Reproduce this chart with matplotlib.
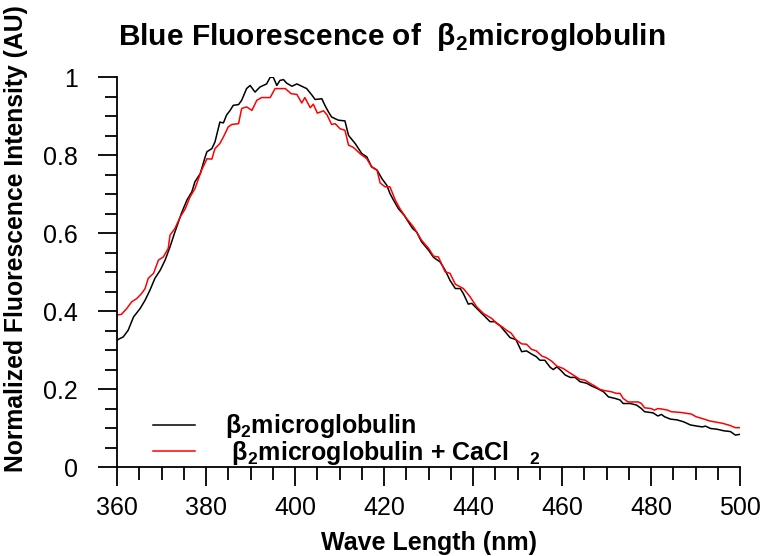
import numpy as np
import matplotlib
matplotlib.use("Agg")
import matplotlib.pyplot as plt
from matplotlib.ticker import MultipleLocator, FuncFormatter

plt.rcParams['font.family'] = ['Liberation Sans', 'DejaVu Sans']
plt.rcParams['mathtext.fontset'] = 'custom'
plt.rcParams['mathtext.rm'] = 'Liberation Sans'
plt.rcParams['mathtext.bf'] = 'Liberation Sans:bold'

# beta2 microglobulin (black)
dalgaSiyah = [360.0, 360.2, 361.4, 362.5, 363.7, 365.2, 366.3, 367.4, 368.5, 369.7, 370.8, 371.9,
              373.0, 374.5, 375.7, 376.8, 377.5, 378.7, 379.8, 380.2, 381.3, 382.0, 383.1, 383.9,
              384.6, 385.4, 386.1, 387.3, 388.0, 389.1, 389.9, 391.0, 392.1, 393.6, 394.4, 395.1,
              395.9, 396.6, 397.4, 398.1, 399.3, 400.4, 401.5, 402.6, 403.8, 404.5, 406.0, 406.7,
              407.5, 408.2, 409.7, 411.2, 412.0, 413.5, 415.0, 416.1, 417.2, 418.4, 419.5, 420.6,
              421.3, 422.1, 423.2, 424.5, 426.4, 427.3, 428.4, 430.0, 431.1, 432.6, 433.7, 434.8,
              436.0, 437.1, 437.8, 438.9, 439.7, 440.8, 442.3, 443.8, 444.9, 446.1, 447.2, 448.3,
              449.6, 450.9, 452.0, 453.1, 454.2, 455.0, 456.1, 457.3, 458.0, 458.8, 459.6, 460.7,
              461.8, 462.9, 464.0, 465.5, 466.6, 467.8, 469.3, 470.4, 471.9, 473.0, 473.7, 475.3,
              476.7, 477.8, 478.5, 480.4, 481.5, 482.3, 483.0, 484.3, 485.8, 487.3, 488.8, 490.3,
              491.5, 492.2, 493.3, 494.8, 496.3, 497.8, 498.9, 500.0]
siyah = [0.325, 0.327, 0.334, 0.351, 0.385, 0.407, 0.428, 0.454, 0.484, 0.505, 0.531, 0.565,
         0.603, 0.652, 0.685, 0.706, 0.732, 0.753, 0.796, 0.809, 0.817, 0.834, 0.885, 0.883,
         0.903, 0.915, 0.928, 0.930, 0.941, 0.971, 0.979, 0.962, 0.975, 0.983, 1.000, 1.000,
         0.979, 0.992, 0.994, 0.985, 0.977, 0.983, 0.977, 0.971, 0.954, 0.943, 0.945, 0.928,
         0.911, 0.898, 0.890, 0.888, 0.851, 0.830, 0.804, 0.796, 0.770, 0.762, 0.740, 0.723,
         0.702, 0.685, 0.663, 0.646, 0.612, 0.603, 0.578, 0.556, 0.538, 0.526, 0.505, 0.479,
         0.458, 0.458, 0.445, 0.418, 0.420, 0.407, 0.390, 0.373, 0.373, 0.362, 0.347, 0.332,
         0.327, 0.296, 0.298, 0.290, 0.283, 0.274, 0.274, 0.256, 0.250, 0.257, 0.249, 0.236,
         0.230, 0.230, 0.219, 0.215, 0.208, 0.202, 0.193, 0.180, 0.176, 0.172, 0.163, 0.163,
         0.159, 0.150, 0.142, 0.139, 0.131, 0.135, 0.129, 0.123, 0.121, 0.116, 0.108, 0.105,
         0.103, 0.105, 0.099, 0.097, 0.093, 0.091, 0.082, 0.084]

# beta2 microglobulin + CaCl2 (red)
dalgaKirmizi = [360.0, 361.0, 362.2, 363.3, 364.4, 365.5, 366.3, 367.0, 368.2, 369.3, 370.4, 371.5,
                371.9, 373.0, 374.2, 375.3, 376.4, 377.5, 378.3, 379.0, 380.2, 381.3, 382.0, 383.1,
                383.9, 385.0, 385.8, 387.3, 388.0, 389.1, 390.3, 391.4, 392.5, 394.4, 395.5, 397.8,
                399.1, 400.4, 401.5, 402.2, 403.4, 404.1, 405.0, 406.4, 407.2, 408.2, 409.0, 410.1,
                411.2, 412.0, 413.1, 414.6, 416.1, 417.2, 418.4, 419.1, 420.2, 421.3, 422.5, 423.6,
                425.1, 426.6, 427.3, 428.4, 430.0, 431.1, 432.2, 433.7, 434.8, 436.0, 437.8, 439.3,
                440.8, 442.3, 444.2, 445.3, 446.5, 447.6, 448.5, 449.6, 450.9, 452.0, 453.1, 454.2,
                455.4, 456.5, 457.6, 458.8, 460.2, 461.4, 462.5, 464.0, 465.1, 466.2, 467.3, 468.5,
                469.6, 471.1, 472.2, 473.0, 473.7, 474.8, 477.1, 477.8, 478.5, 480.0, 480.7, 481.5,
                482.3, 483.7, 484.5, 486.7, 487.8, 489.0, 490.1, 491.6, 493.2, 494.7, 496.1, 497.6,
                498.9, 500.0]
kirmizi = [0.390, 0.392, 0.407, 0.424, 0.432, 0.445, 0.458, 0.484, 0.497, 0.531, 0.539, 0.561,
           0.595, 0.612, 0.642, 0.662, 0.693, 0.714, 0.740, 0.762, 0.791, 0.790, 0.817, 0.830,
           0.847, 0.873, 0.879, 0.881, 0.920, 0.924, 0.915, 0.941, 0.948, 0.948, 0.971, 0.971,
           0.958, 0.956, 0.934, 0.948, 0.922, 0.931, 0.908, 0.914, 0.903, 0.879, 0.881, 0.868,
           0.864, 0.826, 0.820, 0.804, 0.791, 0.770, 0.762, 0.729, 0.719, 0.719, 0.685, 0.662,
           0.637, 0.616, 0.603, 0.582, 0.561, 0.541, 0.539, 0.501, 0.497, 0.469, 0.458, 0.437,
           0.411, 0.394, 0.381, 0.368, 0.360, 0.350, 0.344, 0.327, 0.316, 0.315, 0.302, 0.298,
           0.285, 0.280, 0.272, 0.259, 0.253, 0.244, 0.236, 0.225, 0.223, 0.215, 0.208, 0.199,
           0.196, 0.193, 0.189, 0.189, 0.176, 0.167, 0.167, 0.163, 0.152, 0.150, 0.146, 0.150,
           0.149, 0.146, 0.142, 0.140, 0.138, 0.136, 0.129, 0.124, 0.118, 0.115, 0.112, 0.107,
           0.101, 0.101]

etiketler = [r"β$_\mathbf{2}$microglobulin", r" β$_\mathbf{2}$microglobulin + CaCl   $_\mathbf{2}$"]
baslik = r"Blue Fluorescence of  β$_\mathbf{2}$microglobulin"

fig = plt.figure(figsize=(7.6, 5.56), dpi=100)
ax = fig.add_axes([0.154, 0.160, 0.820, 0.701])

ax.plot(dalgaSiyah, siyah, color='black', lw=1.1, label=etiketler[0])
ax.plot(dalgaKirmizi, kirmizi, color='red', lw=1.1, label=etiketler[1])

ax.set_xlim(360, 500)
ax.set_ylim(0, 1)
ax.spines['top'].set_visible(False)
ax.spines['right'].set_visible(False)
ax.spines['left'].set_linewidth(1.3)
ax.spines['bottom'].set_linewidth(1.3)

ax.xaxis.set_major_locator(MultipleLocator(20))
ax.xaxis.set_minor_locator(MultipleLocator(5))
ax.yaxis.set_major_locator(MultipleLocator(0.2))
ax.yaxis.set_minor_locator(MultipleLocator(0.05))
ax.yaxis.set_major_formatter(FuncFormatter(lambda v, p: "%g" % round(v, 2)))

ax.tick_params(axis='x', which='major', direction='out', length=14, width=1.3, pad=7, labelsize=18)
ax.tick_params(axis='x', which='minor', direction='out', length=9, width=1.3)
ax.tick_params(axis='y', which='major', direction='out', length=14, width=1.3, pad=14, labelsize=18)
ax.tick_params(axis='y', which='minor', direction='out', length=9, width=1.3)

ax.set_xlabel("Wave Length (nm)", fontsize=18, fontweight='bold')
ax.set_ylabel("Normalized Fluorescence Intensity (AU)", fontsize=17.8, fontweight='bold')
ax.xaxis.set_label_coords(0.5, -0.165)
ax.yaxis.set_label_coords(-0.143, 0.585)

fig.text(0.516, 0.933, baslik, fontsize=21.5, fontweight='bold', ha='center', va='center')

ax.legend(loc='lower left', bbox_to_anchor=(0.058, 0.0), frameon=False,
          prop={'size': 18, 'weight': 'bold'}, handlelength=1.68, handletextpad=1.2,
          labelspacing=-0.05, borderpad=0, borderaxespad=0)

plt.savefig("out.png", dpi=100)
